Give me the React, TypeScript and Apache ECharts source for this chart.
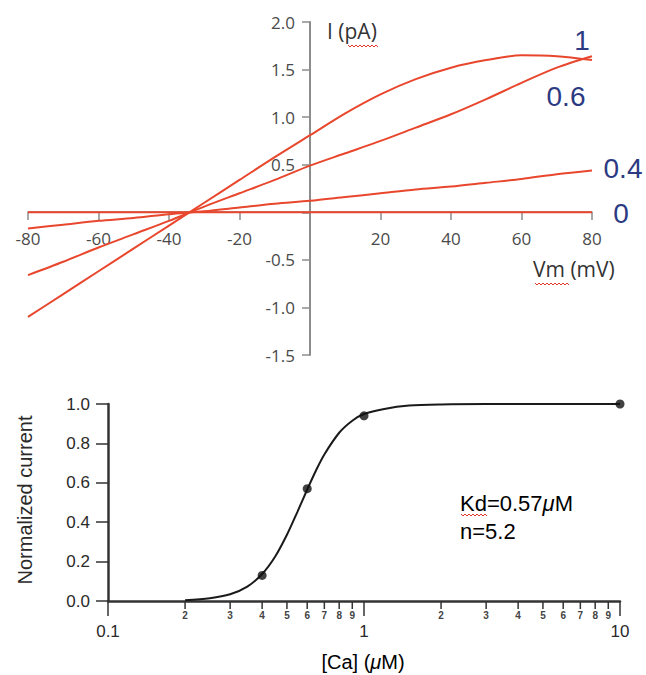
import React, { useEffect, useRef } from "react";
import * as echarts from "echarts";

// ---- Top panel: I-V curves ----
const V_MV = [-80, -70, -60, -50, -40, -30, -20, -10, 0, 10, 20, 30, 40, 50, 60, 70, 80];
const I_CA_1 = [-1.1, -0.86, -0.62, -0.38, -0.14, 0.1, 0.34, 0.58, 0.81, 1.04, 1.24, 1.4, 1.52, 1.6, 1.65, 1.64, 1.6];
const I_CA_06 = [-0.66, -0.52, -0.37, -0.23, -0.09, 0.06, 0.2, 0.34, 0.49, 0.62, 0.75, 0.89, 1.03, 1.19, 1.36, 1.52, 1.64];
const I_CA_04 = [-0.17, -0.13, -0.09, -0.06, -0.02, 0.01, 0.05, 0.09, 0.12, 0.16, 0.2, 0.24, 0.27, 0.31, 0.35, 0.4, 0.44];
const I_CA_0 = [0, 0, 0, 0, 0, 0, 0, 0, 0, 0, 0, 0, 0, 0, 0, 0, 0];
const CURVE_LABELS = ["1", "0.6", "0.4", "0"];

// ---- Bottom panel: dose-response ----
const CA_UM = [0.4, 0.6, 1, 10];
const NORM_CURRENT = [0.13, 0.57, 0.94, 1.0];
const FIT_CA = [0.2, 0.25, 0.3, 0.35, 0.4, 0.45, 0.5, 0.55, 0.6, 0.65, 0.7, 0.8, 0.9, 1.0, 1.2, 1.5, 2, 3, 5, 10];
const FIT_NORM = [0.004, 0.014, 0.034, 0.073, 0.137, 0.226, 0.336, 0.454, 0.566, 0.664, 0.744, 0.854, 0.915, 0.949, 0.975, 0.992, 0.998, 1, 1, 1];
const MINOR_TICKS = [0.2, 0.3, 0.4, 0.5, 0.6, 0.7, 0.8, 0.9, 2, 3, 4, 5, 6, 7, 8, 9];
const MINOR_LABELS = ["2", "3", "4", "5", "6", "7", "8", "9", "2", "3", "4", "5", "6", "7", "8", "9"];

const RED = "#e8472d";
const NAVY = "#2c3a82";
const SANS = "'Liberation Sans', Arial, sans-serif";
const TOPFONT = "'Open Sans', 'Liberation Sans', sans-serif";

// layout of top grid (pixel): x range 28..592, y range 22..355; zero lines at x=310, y=212
const TOP = { left: 28, top: 22, width: 564, height: 333 };
const X_ZERO_OFFSET = -(TOP.top + TOP.height - 212);
const Y_ZERO_OFFSET = -(310 - TOP.left);

function pair(xs: number[], ys: number[]) {
  return xs.map((x, i) => [x, ys[i]]);
}

// decorative spell-check squiggle under a word
function squiggle(x0: number, x1: number, y: number) {
  const pts: number[][] = [];
  let up = true;
  for (let x = x0; x <= x1; x += 2) {
    pts.push([x, up ? y - 1 : y + 1]);
    up = !up;
  }
  return { type: "polyline", shape: { points: pts }, style: { stroke: "#e0392b", lineWidth: 1, fill: null }, silent: true };
}

export default function App() {
  const ref = useRef<HTMLDivElement>(null);
  useEffect(() => {
    const chart = echarts.init(ref.current!, null, { renderer: "svg" });
    const ivSeries = [I_CA_1, I_CA_06, I_CA_04, I_CA_0].map((ys, i) => ({
      name: CURVE_LABELS[i],
      type: "line",
      xAxisIndex: 0,
      yAxisIndex: 0,
      data: pair(V_MV, ys),
      showSymbol: false,
      smooth: 0.3,
      lineStyle: { color: RED, width: 2 },
      z: 3,
    }));
    const option: any = {
      animation: false,
      backgroundColor: "#ffffff",
      grid: [
        { ...TOP, outerBoundsMode: "none", containLabel: false },
        { left: 108, top: 404, width: 512, height: 197, outerBoundsMode: "none", containLabel: false },
      ],
      xAxis: [
        {
          gridIndex: 0,
          type: "value",
          min: -80,
          max: 80,
          interval: 20,
          position: "bottom",
          offset: X_ZERO_OFFSET,
          axisLine: { onZero: false, lineStyle: { color: "#8c8c8c", width: 1.5 } },
          axisTick: { length: 8, lineStyle: { color: "#8c8c8c", width: 1.5 } },
          axisLabel: {
            margin: 18,
            fontSize: 17,
            color: "#4a4a4a",
            fontFamily: TOPFONT,
            formatter: (v: number) => (v === 0 ? "" : String(v)),
          },
          splitLine: { show: false },
        },
        {
          gridIndex: 1,
          type: "log",
          logBase: 10,
          min: 0.1,
          max: 10,
          axisLine: { lineStyle: { color: "#333", width: 2.5 } },
          axisTick: { length: 15, lineStyle: { color: "#333", width: 1.5 } },
          axisLabel: {
            margin: 22,
            fontSize: 17,
            color: "#2a2a2a",
            fontFamily: SANS,
            formatter: (v: number) => String(+Number(v).toPrecision(2)),
          },
          splitLine: { show: false },
        },
      ],
      yAxis: [
        {
          gridIndex: 0,
          type: "value",
          min: -1.5,
          max: 2,
          interval: 0.5,
          position: "left",
          offset: Y_ZERO_OFFSET,
          axisLine: { show: true, onZero: false, lineStyle: { color: "#8c8c8c", width: 2 } },
          axisTick: { show: true, length: 8, lineStyle: { color: "#8c8c8c", width: 1.5 } },
          axisLabel: {
            margin: 15,
            fontSize: 17,
            color: "#4a4a4a",
            fontFamily: TOPFONT,
            formatter: (v: number) => (v === 0 ? "" : v.toFixed(1)),
          },
          splitLine: { show: false },
        },
        {
          gridIndex: 1,
          type: "value",
          min: 0,
          max: 1,
          interval: 0.2,
          axisLine: { show: true, lineStyle: { color: "#333", width: 2.5 } },
          axisTick: { show: true, length: 12, lineStyle: { color: "#333", width: 1.5 } },
          axisLabel: {
            margin: 18,
            fontSize: 17,
            color: "#2a2a2a",
            fontFamily: SANS,
            formatter: (v: number) => v.toFixed(1),
          },
          splitLine: { show: false },
        },
      ],
      series: [
        ...ivSeries,
        {
          type: "line",
          xAxisIndex: 1,
          yAxisIndex: 1,
          data: pair(FIT_CA, FIT_NORM),
          showSymbol: false,
          smooth: 0.3,
          lineStyle: { color: "#1a1a1a", width: 2 },
          z: 3,
        },
        {
          type: "scatter",
          xAxisIndex: 1,
          yAxisIndex: 1,
          data: pair(CA_UM, NORM_CURRENT),
          symbol: "circle",
          symbolSize: 9,
          itemStyle: { color: "#111" },
          z: 4,
        },
        {
          type: "custom",
          xAxisIndex: 1,
          yAxisIndex: 1,
          data: MINOR_TICKS.map((v, i) => [v, 0, i]),
          clip: false,
          silent: true,
          z: 2,
          renderItem: (params: any, api: any) => {
            const p = api.coord([api.value(0), 0]);
            const idx = api.value(2);
            return {
              type: "group",
              children: [
                {
                  type: "line",
                  shape: { x1: p[0], y1: p[1], x2: p[0], y2: p[1] + 8 },
                  style: { stroke: "#333", lineWidth: 1.5 },
                },
                {
                  type: "text",
                  style: {
                    text: MINOR_LABELS[idx],
                    x: p[0],
                    y: p[1] + 14,
                    align: "center",
                    verticalAlign: "middle",
                    fontSize: 10,
                    fontWeight: "bold",
                    fontFamily: SANS,
                    fill: "#444",
                  },
                },
              ],
            };
          },
        },
      ],
      graphic: [
        { type: "text", left: 327, top: 20, style: { text: "I (pA)", fontSize: 21, fontFamily: TOPFONT, fill: "#333" } },
        { type: "text", left: 533, top: 258, style: { text: "Vm (mV)", fontSize: 21, fontFamily: TOPFONT, fill: "#333" } },
        squiggle(348, 378, 46),
        squiggle(535, 570, 284),
        squiggle(461, 488, 515),
        { type: "text", x: 582, y: 40, style: { text: CURVE_LABELS[0], fontSize: 28, fontFamily: SANS, fill: NAVY, align: "center", verticalAlign: "middle" } },
        { type: "text", x: 566, y: 96, style: { text: CURVE_LABELS[1], fontSize: 28, fontFamily: SANS, fill: NAVY, align: "center", verticalAlign: "middle" } },
        { type: "text", x: 623, y: 168, style: { text: CURVE_LABELS[2], fontSize: 28, fontFamily: SANS, fill: NAVY, align: "center", verticalAlign: "middle" } },
        { type: "text", x: 621, y: 213, style: { text: CURVE_LABELS[3], fontSize: 28, fontFamily: SANS, fill: NAVY, align: "center", verticalAlign: "middle" } },
        {
          type: "text",
          x: 25,
          y: 500,
          rotation: Math.PI / 2,
          style: { text: "Normalized current", fontSize: 20, fontFamily: SANS, fill: "#2a2a2a", align: "center", verticalAlign: "middle" },
        },
        {
          type: "text",
          x: 363,
          y: 662,
          style: {
            text: "{n|[Ca] (}{i|μ}{n|M)}",
            align: "center",
            verticalAlign: "middle",
            rich: {
              n: { fontSize: 20, fontFamily: SANS, color: "#2a2a2a" },
              i: { fontSize: 20, fontFamily: SANS, fontStyle: "italic", color: "#2a2a2a" },
            },
          },
        },
        {
          type: "text",
          left: 460,
          top: 492,
          style: {
            text: "{n|Kd=0.57}{i|μ}{n|M}\n{n|n=5.2}",
            rich: {
              n: { fontSize: 22, fontFamily: SANS, color: "#2a2a2a", lineHeight: 28 },
              i: { fontSize: 22, fontFamily: SANS, fontStyle: "italic", color: "#2a2a2a", lineHeight: 28 },
            },
          },
        },
      ],
    };
    chart.setOption(option);
    return () => chart.dispose();
  }, []);
  return (
    <div
      ref={ref}
      style={{ position: "fixed", left: 0, top: 0, width: 646, height: 675, background: "#fff" }}
    />
  );
}
